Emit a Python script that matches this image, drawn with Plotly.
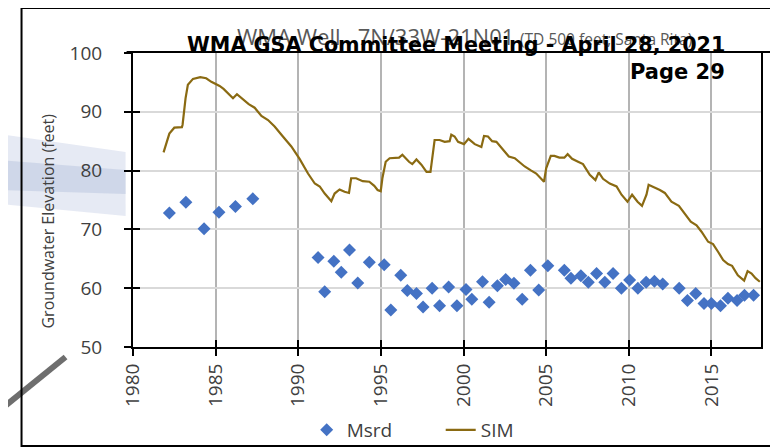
import plotly.graph_objects as go

# ---- data ----
msrd_year = [1982.2, 1983.2, 1984.3, 1985.2, 1986.2, 1987.25,
             1991.2, 1991.6, 1992.15, 1992.6, 1993.1, 1993.6, 1994.3,
             1995.2, 1995.6, 1996.2, 1996.6, 1997.15, 1997.55,
             1998.1, 1998.55, 1999.1, 1999.6,
             2000.15, 2000.5, 2001.15, 2001.55, 2002.05, 2002.55, 2003.05, 2003.55, 2004.05, 2004.55,
             2005.1, 2006.1, 2006.5, 2007.1, 2007.55, 2008.05, 2008.55, 2009.05, 2009.55,
             2010.05, 2010.55, 2011.05, 2011.55, 2012.05,
             2013.05, 2013.55, 2014.05, 2014.55, 2015.0, 2015.55, 2016.0, 2016.55, 2017.0, 2017.55]
msrd_val = [72.8, 74.6, 70.1, 72.9, 73.9, 75.2,
            65.2, 59.4, 64.6, 62.7, 66.5, 60.9, 64.4,
            64.0, 56.3, 62.2, 59.6, 59.1, 56.8,
            60.0, 57.0, 60.2, 57.0,
            59.8, 58.1, 61.1, 57.6, 60.4, 61.5, 60.85, 58.1, 63.05, 59.7,
            63.8, 63.05, 61.7, 62.1, 61.0, 62.5, 61.0, 62.5, 60.0,
            61.4, 60.0, 61.0, 61.2, 60.7,
            60.0, 57.9, 59.1, 57.4, 57.4, 57.0, 58.3, 57.9, 58.8, 58.8]

sim_year = [1981.85, 1982.0, 1982.2, 1982.5, 1982.96, 1983.0, 1983.18, 1983.32, 1983.63, 1984.07,
            1984.43, 1984.74, 1985.24, 1985.48, 1985.8, 1986.05, 1986.29, 1986.6, 1987.0, 1987.36,
            1987.77, 1988.17, 1988.57, 1989.07, 1989.58, 1990.08, 1990.59, 1991.0, 1991.3, 1991.6,
            1992.0, 1992.2, 1992.5, 1992.8, 1993.07, 1993.2, 1993.5, 1993.9, 1994.3, 1994.6,
            1994.8, 1994.99, 1995.09, 1995.29, 1995.53, 1996.1, 1996.3, 1996.7, 1996.9, 1997.15,
            1997.45, 1997.76, 1998.0, 1998.25, 1998.55, 1998.86, 1999.16, 1999.26, 1999.46, 1999.67,
            2000.03, 2000.3, 2000.68, 2001.08, 2001.24, 2001.48, 2001.73, 2001.99, 2002.3, 2002.74,
            2003.1, 2003.4, 2003.7, 2004.1, 2004.4, 2004.87, 2005.0, 2005.28, 2005.5, 2005.8,
            2006.1, 2006.3, 2006.57, 2006.93, 2007.23, 2007.64, 2007.98, 2008.18, 2008.44, 2008.85,
            2009.26, 2009.56, 2009.92, 2010.2, 2010.53, 2010.8, 2011.07, 2011.2, 2011.53, 2011.88,
            2012.18, 2012.58, 2013.03, 2013.39, 2013.75, 2014.1, 2014.4, 2014.8, 2015.1, 2015.4,
            2015.71, 2016.0, 2016.25, 2016.6, 2016.98, 2017.19, 2017.43, 2017.67, 2017.93]
sim_val = [83.1, 84.6, 86.3, 87.3, 87.4, 87.8, 92.3, 94.6, 95.6, 95.9,
           95.7, 95.1, 94.4, 93.9, 92.9, 92.3, 93.0, 92.3, 91.3, 90.7,
           89.3, 88.6, 87.5, 85.8, 84.1, 82.0, 79.5, 77.8, 77.3, 76.1,
           74.8, 76.1, 76.8, 76.4, 76.2, 78.7, 78.7, 78.2, 78.1, 77.4,
           76.7, 76.5, 78.7, 81.5, 82.1, 82.2, 82.7, 81.5, 81.1, 81.9,
           81.0, 79.8, 79.8, 85.2, 85.2, 84.9, 85.0, 86.1, 85.8, 84.9,
           84.5, 85.4, 84.5, 84.0, 85.9, 85.8, 85.0, 84.9, 83.8, 82.4,
           82.1, 81.4, 80.7, 80.0, 79.5, 78.1, 80.4, 82.5, 82.5, 82.2,
           82.2, 82.8, 82.0, 81.5, 81.1, 79.3, 78.4, 79.7, 78.6, 77.8,
           77.3, 75.9, 74.7, 75.9, 74.7, 74.0, 75.9, 77.6, 77.2, 76.7,
           76.2, 74.7, 74.0, 72.7, 71.3, 70.7, 69.6, 67.9, 67.5, 66.2,
           64.8, 64.1, 63.8, 62.2, 61.3, 62.9, 62.5, 61.7, 61.1]

x_ticks = [1980, 1985, 1990, 1995, 2000, 2005, 2010, 2015]
y_ticks = [50, 60, 70, 80, 90, 100]

# the page has an 8px body margin, so the figure is drawn 8px in from the corner
OFF = 8
W, H = 778 - OFF, 448 - OFF
# plot area in page pixels
PL, PR, PT, PB = 133.4, 761, 53, 347
L, R, T, B = PL - OFF, PR - OFF, PT - OFF, PB - OFF


def px(x):  # page x pixel -> paper fraction
    return (x - PL) / (PR - PL)


def py(y):  # page y pixel -> paper fraction
    return (PB - y) / (PB - PT)


FONT = "Open Sans"
TXT = "#404040"

fig = go.Figure()
fig.add_trace(go.Scatter(x=msrd_year, y=msrd_val, mode="markers", name="Msrd",
                         marker=dict(symbol="diamond", size=10, color="#4472C4")))
fig.add_trace(go.Scatter(x=sim_year, y=sim_val, mode="lines", name="SIM",
                         line=dict(color="#8A6A12", width=2.2)))
# helper trace so the overlay axes (inside half of the crossing ticks) render
fig.add_trace(go.Scatter(x=[None], y=[None], xaxis="x2", yaxis="y2",
                         showlegend=False, hoverinfo="skip"))

fig.update_layout(
    width=W, height=H,
    margin=dict(l=L, r=W - R, t=T, b=H - B, autoexpand=False),
    paper_bgcolor="white", plot_bgcolor="white",
    font=dict(family=FONT, color=TXT),
    showlegend=True,
    legend=dict(orientation="h", x=px(307), xanchor="left", y=py(430), yanchor="middle",
                font=dict(size=19, family=FONT, color=TXT),
                entrywidth=89, entrywidthmode="pixels",
                bgcolor="rgba(0,0,0,0)"),
    xaxis=dict(range=[1980, 2018], tickvals=x_ticks, ticktext=[str(v) for v in x_ticks],
               tickangle=-90, tickfont=dict(size=19, family=FONT, color=TXT),
               ticks="outside", ticklen=7, tickwidth=2, tickcolor="black",
               showline=True, linecolor="black", linewidth=2, mirror=True, automargin=False,
               showgrid=True, gridcolor="#b4b4b4", gridwidth=1.5, zeroline=False),
    yaxis=dict(range=[50, 100], tickvals=y_ticks, ticksuffix="\u00a0",
               tickfont=dict(size=19, family=FONT, color=TXT), ticklabelstandoff=18,
               ticks="outside", ticklen=7, tickwidth=2, tickcolor="black",
               showline=True, linecolor="black", linewidth=2, mirror=True, automargin=False,
               showgrid=True, gridcolor="#d9d9d9", gridwidth=2, zeroline=False),
    xaxis2=dict(range=[1980, 2018], tickvals=x_ticks, overlaying="x", anchor="y", side="bottom",
                ticks="inside", ticklen=7, tickwidth=2, tickcolor="black", automargin=False,
                showticklabels=False, showgrid=False, showline=False, zeroline=False),
    yaxis2=dict(range=[50, 100], tickvals=y_ticks, overlaying="y", anchor="x", side="left",
                ticks="inside", ticklen=7, tickwidth=2, tickcolor="black", automargin=False,
                showticklabels=False, showgrid=False, showline=False, zeroline=False),
)

shapes = []
# slide background decoration: soft blue swoosh
shapes.append(dict(type="path", xref="paper", yref="paper", layer="below",
                   path=f"M {px(0)},{py(134)} L {px(126)},{py(152)} L {px(126)},{py(216)} L {px(0)},{py(204)} Z",
                   fillcolor="rgba(214,220,236,0.6)", line=dict(width=0)))
shapes.append(dict(type="path", xref="paper", yref="paper", layer="below",
                   path=f"M {px(0)},{py(160)} L {px(126)},{py(170)} L {px(126)},{py(194)} L {px(0)},{py(190)} Z",
                   fillcolor="rgba(180,192,220,0.45)", line=dict(width=0)))
# grey diagonal stroke
shapes.append(dict(type="line", xref="paper", yref="paper", layer="above",
                   x0=px(-2), y0=py(412), x1=px(66), y1=py(357),
                   line=dict(color="#6e6e6e", width=6)))
# frame
shapes.append(dict(type="rect", xref="paper", yref="paper", layer="above",
                   x0=px(22), y0=py(446), x1=px(800), y1=py(8),
                   line=dict(color="black", width=2), fillcolor="rgba(0,0,0,0)"))
# banner underline across top
shapes.append(dict(type="line", xref="paper", yref="paper", layer="above",
                   x0=px(127), y0=py(52), x1=px(790), y1=py(52),
                   line=dict(color="black", width=2)))
fig.update_layout(shapes=shapes)

ann = []
ann.append(dict(xref="paper", yref="paper", x=px(48), y=py(221), xanchor="center", yanchor="middle",
                text="Groundwater Elevation (feet)", textangle=-90, showarrow=False,
                font=dict(size=16, family=FONT, color=TXT)))
ann.append(dict(xref="paper", yref="paper", x=px(235), y=py(36), xanchor="left", yanchor="middle",
                text='WMA Well   7N/33W-21N01 <span style="font-size:15.5px">(TD 500 feet; Santa Rita)</span>',
                showarrow=False, font=dict(size=22, family=FONT, color="#595959")))
ann.append(dict(xref="paper", yref="paper", x=px(727), y=py(45), xanchor="right", yanchor="middle",
                text="<b>WMA GSA Committee Meeting - April 28, 2021</b>", showarrow=False,
                font=dict(size=20.7, family="DejaVu Sans", color="black")))
ann.append(dict(xref="paper", yref="paper", x=px(727), y=py(72), xanchor="right", yanchor="middle",
                text="<b>Page 29</b>", showarrow=False,
                font=dict(size=21, family="DejaVu Sans", color="black")))
fig.update_layout(annotations=ann)

fig.write_html("out.html")
